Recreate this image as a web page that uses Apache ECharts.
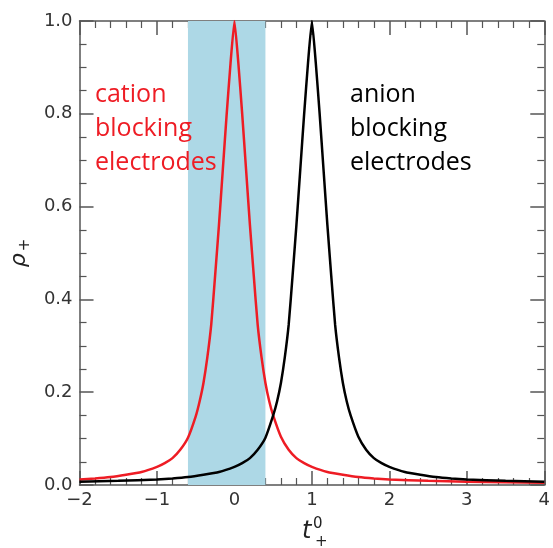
<!DOCTYPE html>
<html>
<head>
<meta charset="utf-8">
<script src="https://cdn.jsdelivr.net/npm/echarts@6/dist/echarts.min.js"></script>
<style>html,body{margin:0;padding:0;background:#fff}#c{width:553px;height:548px}</style>
</head>
<body>
<div id="c"></div>
<script>
// Data
const redX = [-2, -1.8, -1.6, -1.4, -1.2, -1.0, -0.9, -0.8, -0.7, -0.6, -0.5, -0.45, -0.4, -0.35, -0.3, -0.25, -0.2, -0.15, -0.1, -0.05, 0,
  0.05, 0.1, 0.15, 0.2, 0.25, 0.3, 0.35, 0.4, 0.45, 0.5, 0.6, 0.7, 0.8, 0.9, 1.0, 1.2, 1.4, 1.6, 1.8, 2.0, 2.5, 3.0, 3.5, 4.0];
const redY = [0.012, 0.014, 0.017, 0.022, 0.028, 0.039, 0.047, 0.058, 0.076, 0.102, 0.148, 0.18, 0.22, 0.275, 0.345, 0.45, 0.56, 0.68, 0.80, 0.91, 1.0,
  0.91, 0.80, 0.68, 0.56, 0.45, 0.345, 0.275, 0.22, 0.18, 0.15, 0.104, 0.076, 0.058, 0.047, 0.039, 0.028, 0.022, 0.017, 0.014, 0.012, 0.009, 0.007, 0.006, 0.005];
const blackX = [-2, -1.5, -1.0, -0.8, -0.6, -0.4, -0.2, 0, 0.1, 0.2, 0.3, 0.4, 0.5, 0.55, 0.6, 0.65, 0.7, 0.75, 0.8, 0.85, 0.9, 0.95, 1.0,
  1.05, 1.1, 1.15, 1.2, 1.25, 1.3, 1.35, 1.4, 1.45, 1.5, 1.6, 1.7, 1.8, 1.9, 2.0, 2.2, 2.4, 2.6, 2.8, 3.0, 3.5, 4.0];
const blackY = [0.007, 0.009, 0.012, 0.014, 0.017, 0.022, 0.028, 0.039, 0.047, 0.058, 0.076, 0.102, 0.15, 0.18, 0.22, 0.275, 0.345, 0.45, 0.56, 0.68, 0.80, 0.91, 1.0,
  0.91, 0.80, 0.68, 0.56, 0.45, 0.345, 0.275, 0.22, 0.18, 0.15, 0.104, 0.076, 0.058, 0.047, 0.039, 0.028, 0.022, 0.017, 0.014, 0.012, 0.009, 0.007];
const bandRange = [-0.6, 0.4];
const xTicks = [-2, -1, 0, 1, 2, 3, 4];
const yTicks = [0.0, 0.2, 0.4, 0.6, 0.8, 1.0];
const redText = ['cation', 'blocking', 'electrodes'];
const blackText = ['anion', 'blocking', 'electrodes'];

const pairs = (xs, ys) => xs.map((x, i) => [x, ys[i]]);
const axisCol = '#555';
const tickFont = {fontFamily: 'DejaVu Sans', fontSize: 18, color: '#333'};

function xAxisDef(pos, labels) {
  return {
    gridIndex: 0, type: 'value', position: pos, min: xTicks[0], max: xTicks[xTicks.length - 1], interval: 1,
    axisLine: {show: true, onZero: false, lineStyle: {color: axisCol, width: 1.5}},
    axisTick: {show: true, inside: true, length: 14, lineStyle: {color: axisCol, width: 1.5}},
    minorTick: {show: true, splitNumber: 5, length: 7, lineStyle: {color: axisCol, width: 1.2}},
    splitLine: {show: false},
    axisLabel: Object.assign({show: labels, margin: 6,
      formatter: v => v < 0 ? '\u2212' + Math.abs(v) : String(v)}, tickFont)
  };
}
function yAxisDef(pos, labels) {
  return {
    gridIndex: 0, type: 'value', position: pos, min: yTicks[0], max: yTicks[yTicks.length - 1], interval: 0.2,
    axisLine: {show: true, onZero: false, lineStyle: {color: axisCol, width: 1.5}},
    axisTick: {show: true, inside: true, length: 14, lineStyle: {color: axisCol, width: 1.5}},
    minorTick: {show: true, splitNumber: 4, length: 7, lineStyle: {color: axisCol, width: 1.2}},
    splitLine: {show: false},
    axisLabel: Object.assign({show: labels, margin: 7, formatter: v => v.toFixed(1)}, tickFont)
  };
}

const yLeft = yAxisDef('left', true);
yLeft.name = '{r|\u03C1}{s|+}';
yLeft.nameLocation = 'middle';
yLeft.nameRotate = 90;
yLeft.nameGap = 44;
yLeft.nameTextStyle = {
  rich: {
    r: {fontFamily: 'DejaVu Sans', fontStyle: 'italic', fontSize: 22, color: '#222', lineHeight: 28},
    s: {fontFamily: 'DejaVu Sans', fontSize: 15, color: '#222', lineHeight: 28, verticalAlign: 'bottom', padding: [0, 0, 0, 2]}
  }
};

const labelStyle = {fontFamily: 'Open Sans', fontSize: 25, lineHeight: 34, fontWeight: 'normal'};
const mathStyle = {fontFamily: 'DejaVu Sans', fontWeight: 'normal', color: '#222'};

const chart = echarts.init(document.getElementById('c'));
chart.setOption({
  animation: false,
  title: [
    {text: redText.join('\n'), left: 95, top: 78, padding: 0, textStyle: Object.assign({color: '#ee1c24'}, labelStyle)},
    {text: blackText.join('\n'), left: 350, top: 78, padding: 0, textStyle: Object.assign({color: '#000'}, labelStyle)},
    {text: 't', left: 302, top: 519, padding: 0, textStyle: Object.assign({fontStyle: 'italic', fontSize: 24, lineHeight: 26}, mathStyle)},
    {text: '0', left: 313, top: 516, padding: 0, textStyle: Object.assign({fontSize: 15, lineHeight: 16}, mathStyle)},
    {text: '+', left: 315, top: 534, padding: 0, textStyle: Object.assign({fontSize: 15, lineHeight: 16}, mathStyle)}
  ],
  grid: [{left: 79, right: 5, top: 21, height: 464}],
  xAxis: [xAxisDef('bottom', true), xAxisDef('top', false)],
  yAxis: [yLeft, yAxisDef('right', false)],
  series: [
    {
      type: 'line', xAxisIndex: 0, yAxisIndex: 0, data: pairs(redX, redY), showSymbol: false,
      lineStyle: {color: '#ee1c24', width: 2.5}, smooth: 0.15,
      markArea: {silent: true, itemStyle: {color: '#add8e6', opacity: 1},
        data: [[{xAxis: bandRange[0]}, {xAxis: bandRange[1]}]]}
    },
    {
      type: 'line', xAxisIndex: 0, yAxisIndex: 0, data: pairs(blackX, blackY), showSymbol: false,
      lineStyle: {color: '#000', width: 2.5}, smooth: 0.15
    }
  ]
});
</script>
</body>
</html>
